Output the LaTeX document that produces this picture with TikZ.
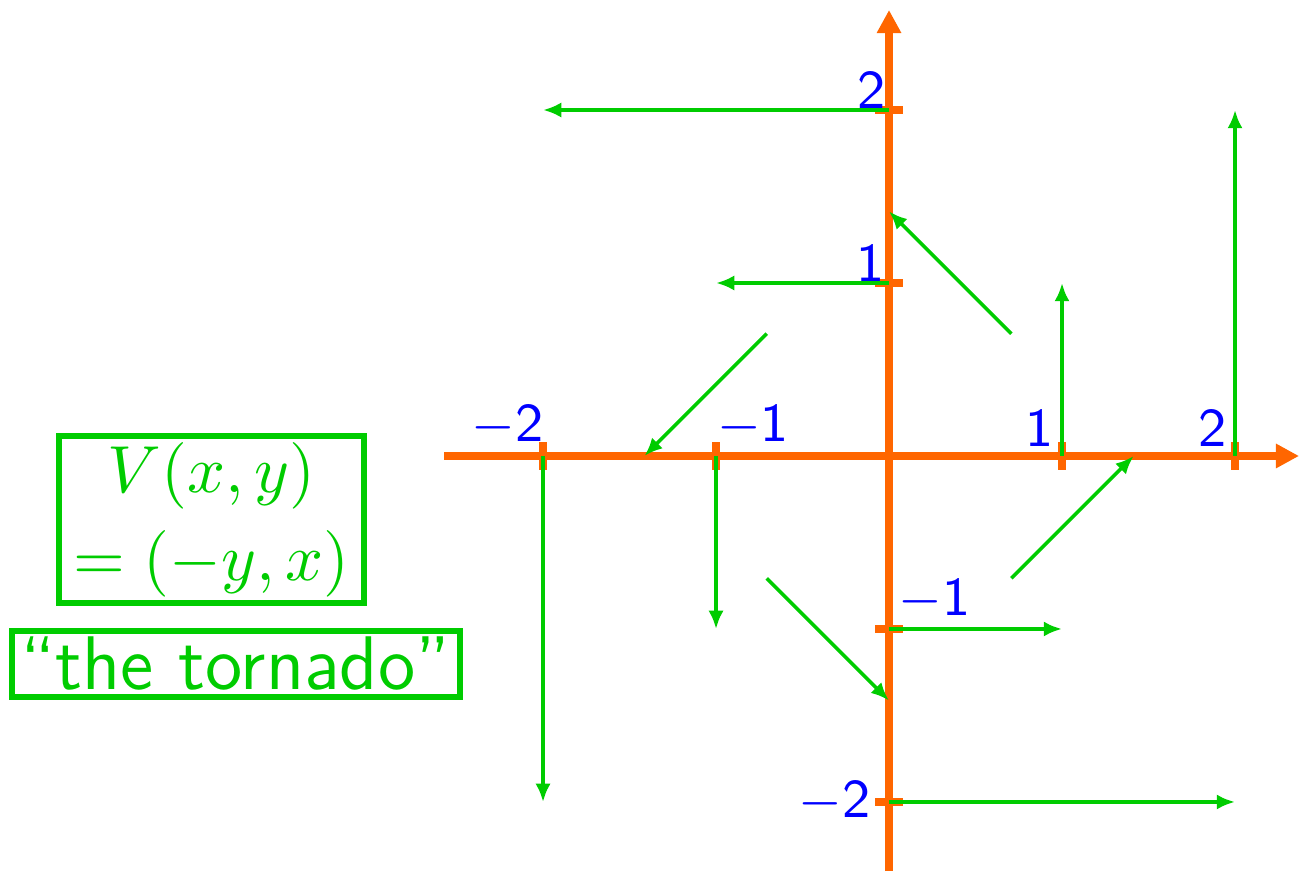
\documentclass[tikz,border=0pt]{standalone}
\usepackage{amsmath}
\usepackage{tikz}
\usepackage{xcolor}
\usetikzlibrary{positioning, arrows.meta}
\definecolor{axorange}{RGB}{255, 102, 0}
\definecolor{vecgreen}{RGB}{0, 204, 0}
\definecolor{labblue}{RGB}{0, 0, 255}

\begin{document}
\begin{tikzpicture}[
      axis/.style={line width=1.3pt, axorange, -{Triangle[length=3.8pt, width=3.8pt]}},
      tick/.style={line width=1.3pt, axorange},
      vec/.style={line width=0.6pt, vecgreen, -{Latex[length=3pt, width=2.5pt]}},
      ticklab/.style={text=labblue, font=\fontsize{9}{10}\selectfont\sffamily, inner sep=0pt},
      framebox/.style={draw=vecgreen, line width=1pt, text=vecgreen, align=center}
    ]
    \useasboundingbox (-5.139,-2.399) rectangle (2.370,2.636);

    % axes
    \draw[axis] (-2.572,0) -- (2.370,0);
    \draw[axis] (0,-2.399) -- (0,2.578);
    \foreach \t in {-2,-1,1,2} {
      \draw[tick] (\t,-0.08) -- (\t,0.08);
      \draw[tick] (-0.08,\t) -- (0.08,\t);
    }

    % tick labels
    \node[ticklab, anchor=south east] (xm2) at (-1.99,0.05) {$-$2};
    \node[ticklab, anchor=south west] (xm1) at (-1.0,0.05) {$-$1};
    \node[ticklab, anchor=south east] (xp1) at (0.96,0.05) {1};
    \node[ticklab, anchor=south east] (xp2) at (1.96,0.05) {2};
    \node[ticklab, anchor=south east] (yp2) at (-0.01,2.0) {2};
    \node[ticklab, anchor=south east] (yp1) at (-0.02,1.0) {1};
    \node[ticklab, anchor=south west] (ym1) at (0.05,-0.96) {$-$1};
    \node[ticklab, anchor=east] (ym2) at (-0.1,-2.0) {$-$2};

    % field V(x,y) = (-y,x)
    \foreach \x/\y in {0/2, 0/1, 0.707/0.707, 1/0, 2/0, -0.707/0.707,
                       -1/0, -2/0, -0.707/-0.707, 0/-1, 0/-2, 0.707/-0.707}
      \draw[vec] (\x,\y) -- ++({-1*\y},{\x});

    % labels
    \node[framebox, font=\fontsize{11.2}{13.5}\selectfont, inner sep=1pt,
      minimum width=1.76cm, minimum height=0.94cm] (formula) at (-3.916,-0.367)
      {$V(x,y)$\\[1pt]$=(-y,x)$};
    \node[framebox, font=\fontsize{12.5}{14}\selectfont\sffamily, inner sep=1pt,
      minimum width=2.59cm, minimum height=0.38cm] (name) at (-3.777,-1.202)
      {``the tornado''};
  \end{tikzpicture}
\end{document}
